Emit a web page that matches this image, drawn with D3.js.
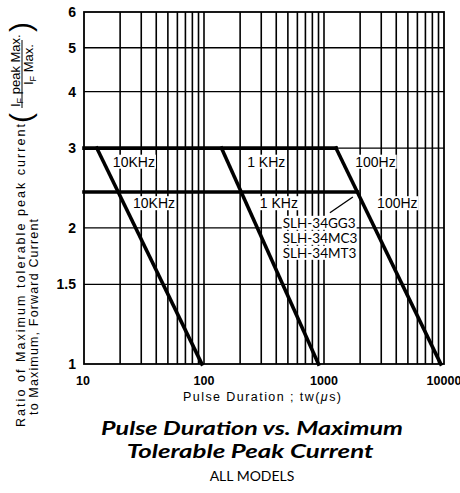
<!DOCTYPE html>
<html>
<head>
<meta charset="utf-8">
<script src="https://cdn.jsdelivr.net/npm/d3@7/dist/d3.min.js"></script>
<style>
  html, body { margin: 0; padding: 0; background: #fff; }
  svg { display: block; }
</style>
</head>
<body>
<svg id="chart" width="460" height="493" viewBox="0 0 460 493"></svg>
<script>
// ---- data ----
const xDomain = [10, 10000];
const yDomain = [1, 6];
const xTickLabels = [10, 100, 1000, 10000];
const yTickLabels = [1, 1.5, 2, 3, 4, 5, 6];
const yGridValues = [1.5, 2, 3, 4, 5];

// plateaus (ratio held flat until the diagonal)
const plateauHigh = [[10, 3], [1260, 3]];
const plateauLow = [[10, 2.4], [1900, 2.4]];

// one diagonal per repetition frequency
const diag10k = [[12.8, 3], [96, 1]];
const diag1k = [[140, 3], [900, 1]];
const diag100 = [[1260, 3], [9400, 1]];

// text labels anchored in data space
const freqLabels = [
  { text: "10KHz", t: 17.4, r: 2.73 },
  { text: "10KHz", t: 25.6, r: 2.21 },
  { text: "1 KHz", t: 229, r: 2.73 },
  { text: "1 KHz", t: 292, r: 2.21 },
  { text: "100Hz", t: 1820, r: 2.73 },
  { text: "100Hz", t: 2770, r: 2.21 }
];
const modelNames = ["SLH-34GG3", "SLH-34MC3", "SLH-34MT3"];
const leader = [[1120, 2.16], [1740, 2.34]];

const svg = d3.select("#chart");
const margin = { top: 12, right: 16, bottom: 129, left: 84 };
const W = 460, H = 493;

const x = d3.scaleLog().domain(xDomain).range([margin.left, W - margin.right]);
const y = d3.scaleLog().domain(yDomain).range([H - margin.bottom, margin.top]);

// Grid
const grid = svg.append("g").attr("stroke", "#000");
grid.selectAll("line.v")
  .data(x.ticks().filter(d => d > xDomain[0] && d < xDomain[1]))
  .enter().append("line")
  .attr("x1", d => x(d)).attr("x2", d => x(d))
  .attr("y1", y(yDomain[1])).attr("y2", y(yDomain[0]))
  .attr("stroke-width", 1.6);

grid.selectAll("line.h")
  .data(yGridValues)
  .enter().append("line")
  .attr("x1", x(xDomain[0])).attr("x2", x(xDomain[1]))
  .attr("y1", d => y(d)).attr("y2", d => y(d))
  .attr("stroke-width", 1.4);

svg.append("rect")
  .attr("x", x(xDomain[0])).attr("y", y(yDomain[1]))
  .attr("width", x(xDomain[1]) - x(xDomain[0]))
  .attr("height", y(yDomain[0]) - y(yDomain[1]))
  .attr("fill", "none").attr("stroke", "#000").attr("stroke-width", 1.8);

// Curves
const line = d3.line().x(d => x(d[0])).y(d => y(d[1]));
svg.append("g")
  .selectAll("path")
  .data([plateauHigh, plateauLow, diag10k, diag1k, diag100])
  .enter().append("path")
  .attr("d", line)
  .attr("fill", "none")
  .attr("stroke", "#000")
  .attr("stroke-width", 3.6)
  .attr("stroke-linecap", "square");

// labels with white backing
function labelWithBg(parent, text, px, py, font, size) {
  const g = parent.append("g");
  const t = g.append("text")
    .attr("x", px).attr("y", py)
    .attr("font-family", font)
    .attr("font-size", size)
    .attr("fill", "#000")
    .text(text);
  const b = t.node().getBBox();
  g.insert("rect", "text")
    .attr("x", b.x - 1).attr("y", b.y + 1)
    .attr("width", b.width + 2).attr("height", b.height - 2)
    .attr("fill", "#fff");
  return g;
}

const ann = svg.append("g");
freqLabels.forEach(d => {
  labelWithBg(ann, d.text, x(d.t), y(d.r), "'Liberation Sans', Arial, sans-serif", 14);
});

// leader line from models to low plateau corner
ann.append("path")
  .attr("d", line(leader))
  .attr("stroke", "#000").attr("stroke-width", 1.4);

modelNames.forEach((m, i) => {
  labelWithBg(ann, m, x(453), y(2.0) + i * 15, "Lato, 'Open Sans', sans-serif", 13.5);
});

// Tick labels
svg.append("g")
  .selectAll("text")
  .data(yTickLabels)
  .enter().append("text")
  .attr("x", 76)
  .attr("y", d => y(d) + 5)
  .attr("text-anchor", "end")
  .attr("font-family", "'Liberation Sans', Arial, sans-serif")
  .attr("font-weight", "bold")
  .attr("font-size", 14)
  .text(d => d);

svg.append("g")
  .selectAll("text")
  .data(xTickLabels)
  .enter().append("text")
  .attr("x", d => x(d) - (d === 10 ? 1 : 0))
  .attr("y", 385)
  .attr("text-anchor", "middle")
  .attr("font-family", "'Liberation Sans', Arial, sans-serif")
  .attr("font-weight", "bold")
  .attr("font-size", 12.5)
  .text(d => d);

// X axis title
const xt = svg.append("text")
  .attr("x", 262).attr("y", 401)
  .attr("text-anchor", "middle")
  .attr("font-family", "'Liberation Sans', Arial, sans-serif")
  .attr("font-size", 12.5)
  .attr("textLength", 158)
  .attr("fill", "#000");
xt.append("tspan").text("Pulse Duration ; tw(");
xt.append("tspan").attr("font-style", "italic").text("μ");
xt.append("tspan").text("s)");

// Y axis title (rotated)
const yl = svg.append("g").attr("transform", "rotate(-90)")
  .attr("font-family", "'Liberation Sans', Arial, sans-serif")
  .attr("fill", "#000");
yl.append("text")
  .attr("x", -427).attr("y", 25)
  .attr("font-size", 12.5)
  .attr("textLength", 303)
  .text("Ratio of Maximum tolerable peak current");
yl.append("text")
  .attr("x", -415).attr("y", 38)
  .attr("font-size", 12.5)
  .attr("textLength", 196)
  .text("to Maximum, Forward Current");

// fraction I_F peak Max. / I_F Max.
yl.append("text").attr("x", -123).attr("y", 31).attr("font-size", 30).text("(");
yl.append("text").attr("x", -22).attr("y", 31).attr("font-size", 30).attr("text-anchor", "end").text(")");
const num = yl.append("text").attr("x", -107).attr("y", 20).attr("font-size", 13);
num.append("tspan").text("I");
num.append("tspan").attr("font-size", 9).attr("dy", 3).text("F");
num.append("tspan").attr("dy", -3).text(" peak Max.");
yl.append("line")
  .attr("x1", -108).attr("x2", -40)
  .attr("y1", 22).attr("y2", 22)
  .attr("stroke", "#000").attr("stroke-width", 1);
const den = yl.append("text").attr("x", -85).attr("y", 33).attr("font-size", 13);
den.append("tspan").text("I");
den.append("tspan").attr("font-size", 9).attr("dy", 3).text("F");
den.append("tspan").attr("dy", -3).text(" Max.");

// Chart title, stretched horizontally to the widths seen in the reference
function titleLine(text, cx, cy, target) {
  const g = svg.append("g");
  const t = g.append("text")
    .attr("text-anchor", "middle")
    .attr("font-family", "Lato, 'Open Sans', sans-serif")
    .attr("font-weight", "bold").attr("font-style", "italic")
    .attr("font-size", 19)
    .attr("fill", "#000")
    .text(text);
  const sx = target / t.node().getComputedTextLength();
  g.attr("transform", `translate(${cx},${cy}) scale(${sx.toFixed(3)},1)`);
}
titleLine("Pulse Duration vs. Maximum", 252, 435, 302);
titleLine("Tolerable Peak Current", 250, 458, 247);

svg.append("text")
  .attr("x", 252).attr("y", 481)
  .attr("text-anchor", "middle")
  .attr("font-family", "Lato, 'Open Sans', sans-serif")
  .attr("font-size", 14)
  .text("ALL MODELS");
</script>
</body>
</html>
